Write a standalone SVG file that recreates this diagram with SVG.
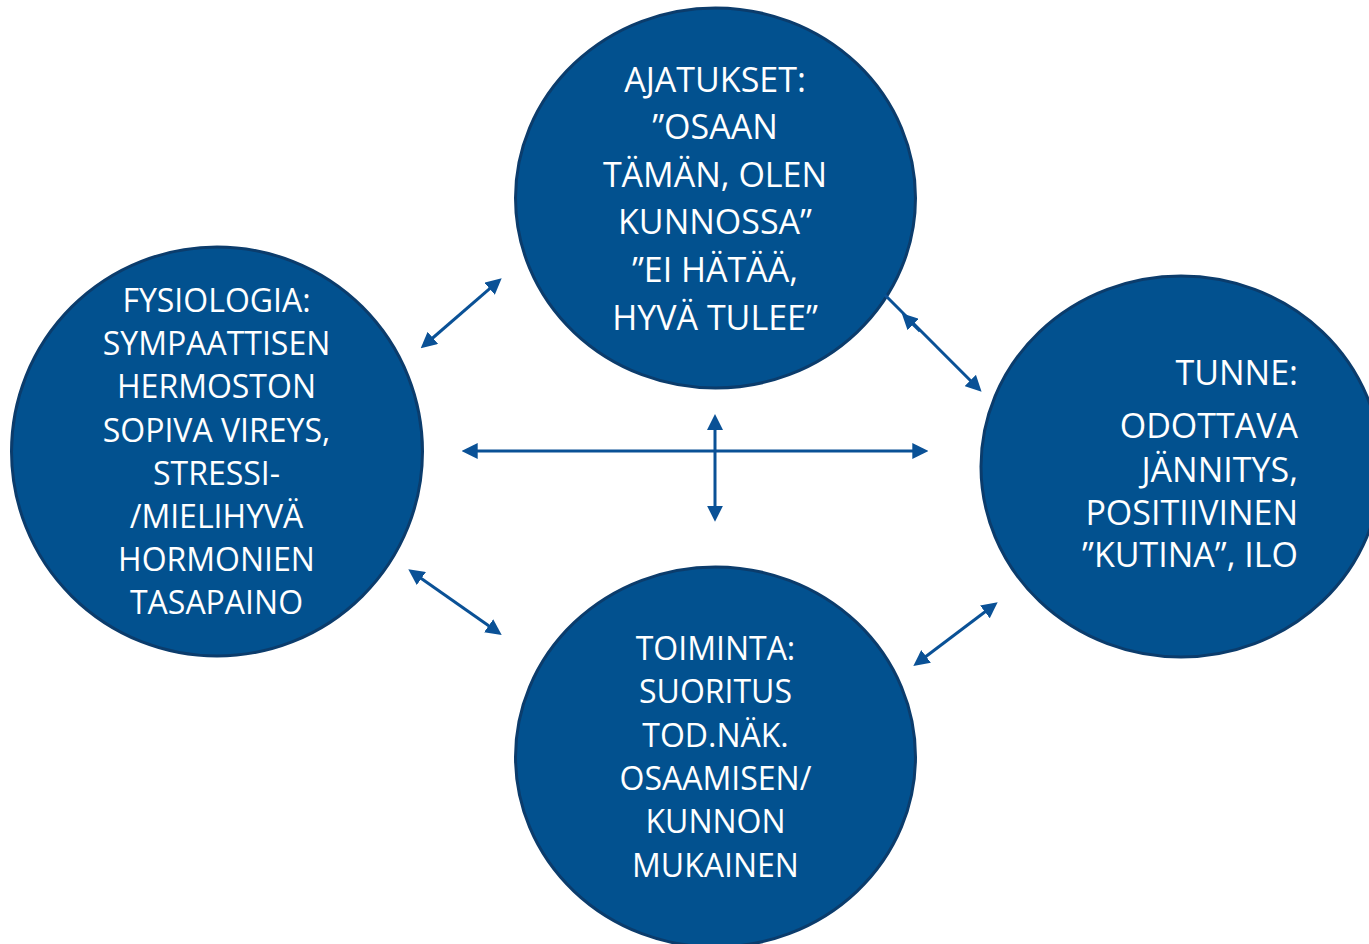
<svg xmlns="http://www.w3.org/2000/svg" width="1369" height="944" viewBox="0 0 1369 944">
<style>
.node{fill:#02518f;stroke:#0b3c6c;stroke-width:3}
.t{font-family:"Open Sans","Noto Sans","Liberation Sans",sans-serif;fill:#ffffff;text-anchor:middle}
.s32{font-size:32px}
.s34{font-size:34px}
.r{text-anchor:end}
.c{fill:none;stroke:#0a5196;stroke-width:3}
</style>
<defs>
<marker id="ah" markerUnits="userSpaceOnUse" markerWidth="16" markerHeight="16" viewBox="0 0 16 16" refX="4" refY="8" orient="auto-start-reverse">
<path d="M0,0 L16,8 L0,16 z" fill="#0a5196"/>
</marker>
</defs>
<rect width="1369" height="944" fill="#ffffff"/>
<g id="ajatukset">
<ellipse class="node" cx="715.5" cy="198" rx="200" ry="190"/>
<text class="t s34" x="715" y="92">AJATUKSET:</text>
<text class="t s34" x="715" y="139">”OSAAN</text>
<text class="t s34" x="715" y="187">TÄMÄN, OLEN</text>
<text class="t s34" x="715" y="234">KUNNOSSA”</text>
<text class="t s34" x="715" y="282">”EI HÄTÄÄ,</text>
<text class="t s34" x="715" y="330">HYVÄ TULEE”</text>
</g>
<g id="fysiologia">
<ellipse class="node" cx="217" cy="451.5" rx="205.5" ry="204.5"/>
<text class="t s32" x="216.5" y="312">FYSIOLOGIA:</text>
<text class="t s32" x="216.5" y="355">SYMPAATTISEN</text>
<text class="t s32" x="216.5" y="398">HERMOSTON</text>
<text class="t s32" x="216.5" y="442">SOPIVA VIREYS,</text>
<text class="t s32" x="216.5" y="485">STRESSI-</text>
<text class="t s32" x="216.5" y="528">/MIELIHYVÄ</text>
<text class="t s32" x="216.5" y="571">HORMONIEN</text>
<text class="t s32" x="216.5" y="614">TASAPAINO</text>
</g>
<g id="tunne">
<ellipse class="node" cx="1181" cy="466.5" rx="200" ry="190.5"/>
<text class="t s34 r" x="1298" y="385">TUNNE:</text>
<text class="t s34 r" x="1298" y="438">ODOTTAVA</text>
<text class="t s34 r" x="1298" y="482">JÄNNITYS,</text>
<text class="t s34 r" x="1298" y="525">POSITIIVINEN</text>
<text class="t s34 r" x="1298" y="567">”KUTINA”, ILO</text>
</g>
<g id="toiminta">
<ellipse class="node" cx="715.5" cy="757" rx="200" ry="190"/>
<text class="t s32" x="715.5" y="660">TOIMINTA:</text>
<text class="t s32" x="715.5" y="703">SUORITUS</text>
<text class="t s32" x="715.5" y="747">TOD.NÄK.</text>
<text class="t s32" x="715.5" y="790">OSAAMISEN/</text>
<text class="t s32" x="715.5" y="833">KUNNON</text>
<text class="t s32" x="715.5" y="877">MUKAINEN</text>
</g>
<g id="connectors">
<path class="c" d="M429.8,340.5 L492.6,286.2" marker-start="url(#ah)" marker-end="url(#ah)"/>
<path class="c" d="M885,295 L973.1,383.3" marker-end="url(#ah)"/>
<path class="c" d="M910.3,321.7 L920,331.2" marker-start="url(#ah)"/>
<path class="c" d="M473.7,451 L916.3,451" marker-start="url(#ah)" marker-end="url(#ah)"/>
<path class="c" d="M715,426 L715,509.7" marker-start="url(#ah)" marker-end="url(#ah)"/>
<path class="c" d="M418.1,576.2 L491.9,628.1" marker-start="url(#ah)" marker-end="url(#ah)"/>
<path class="c" d="M922.9,658.8 L988.1,609.5" marker-start="url(#ah)" marker-end="url(#ah)"/>
</g>
</svg>
